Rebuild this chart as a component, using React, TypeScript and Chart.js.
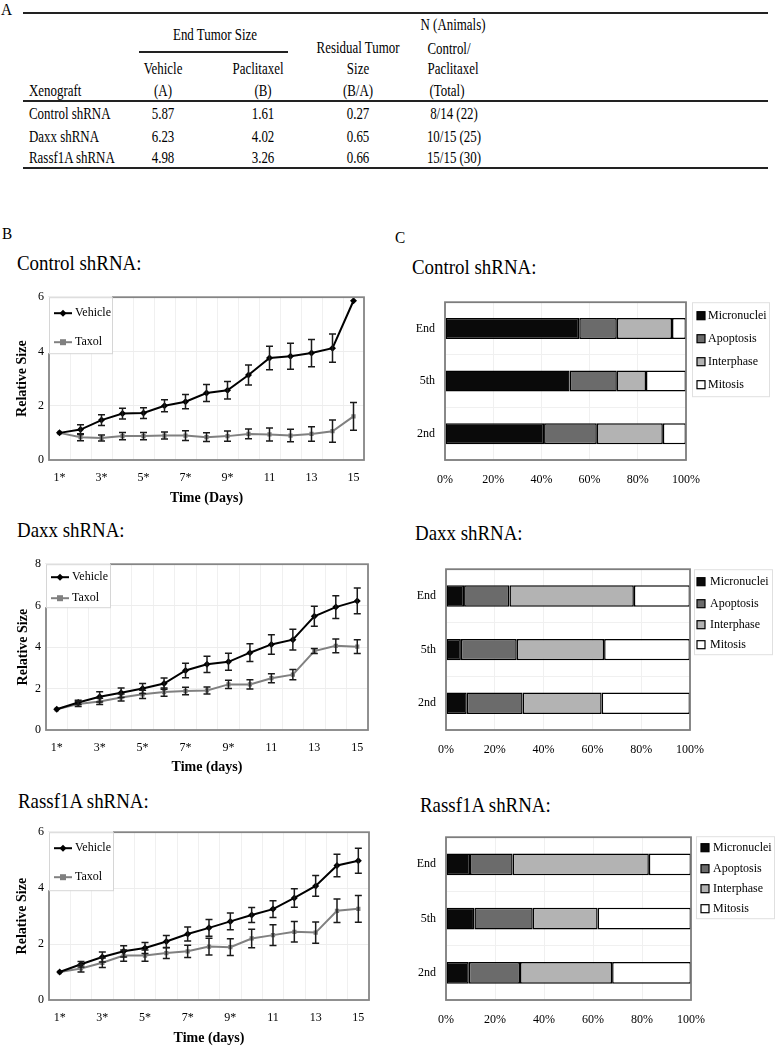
import React, { useEffect, useRef } from 'react';
import { Chart, registerables } from 'chart.js';
Chart.register(...registerables);

const FONT = '"Liberation Serif", "Times New Roman", Times, serif';

// ---------- Table data ----------
const xenografts = ['Control shRNA', 'Daxx shRNA', 'Rassf1A shRNA'];
const vehicleEnd = ['5.87', '6.23', '4.98'];
const paclitaxelEnd = ['1.61', '4.02', '3.26'];
const residualSize = ['0.27', '0.65', '0.66'];
const animals = ['8/14 (22)', '10/15 (25)', '15/15 (30)'];

// ---------- Growth curves ----------
const days = ['1*', '2', '3*', '4', '5*', '6', '7*', '8', '9*', '10', '11', '12', '13', '14', '15'];

const controlVehicle = [1.0, 1.12, 1.47, 1.71, 1.73, 2.0, 2.15, 2.47, 2.57, 3.13, 3.76, 3.82, 3.94, 4.12, 5.87];
const controlVehicleErr = [0, 0.18, 0.2, 0.2, 0.2, 0.22, 0.26, 0.31, 0.32, 0.37, 0.43, 0.48, 0.5, 0.52, 0];
const controlTaxol = [1.0, 0.84, 0.81, 0.88, 0.88, 0.9, 0.9, 0.84, 0.88, 0.96, 0.94, 0.9, 0.96, 1.06, 1.61];
const controlTaxolErr = [0, 0.13, 0.11, 0.13, 0.13, 0.13, 0.18, 0.16, 0.19, 0.18, 0.24, 0.23, 0.27, 0.41, 0.51];

const daxxVehicle = [1.0, 1.33, 1.6, 1.8, 2.0, 2.24, 2.87, 3.17, 3.29, 3.73, 4.13, 4.36, 5.49, 5.93, 6.23];
const daxxVehicleErr = [0, 0.1, 0.25, 0.23, 0.24, 0.27, 0.35, 0.39, 0.41, 0.43, 0.47, 0.5, 0.48, 0.55, 0.62];
const daxxTaxol = [1.0, 1.25, 1.38, 1.57, 1.72, 1.83, 1.88, 1.91, 2.2, 2.2, 2.5, 2.67, 3.81, 4.06, 4.02];
const daxxTaxolErr = [0, 0.12, 0.15, 0.17, 0.2, 0.2, 0.18, 0.17, 0.2, 0.22, 0.22, 0.25, 0.12, 0.33, 0.33];

const rassfVehicle = [1.0, 1.28, 1.54, 1.74, 1.86, 2.09, 2.36, 2.58, 2.81, 3.04, 3.25, 3.65, 4.08, 4.81, 4.98];
const rassfVehicleErr = [0, 0.1, 0.18, 0.2, 0.2, 0.22, 0.25, 0.3, 0.3, 0.27, 0.3, 0.33, 0.37, 0.4, 0.45];
const rassfTaxol = [1.0, 1.13, 1.33, 1.59, 1.59, 1.68, 1.74, 1.91, 1.89, 2.2, 2.32, 2.44, 2.41, 3.19, 3.26];
const rassfTaxolErr = [0, 0.13, 0.17, 0.2, 0.2, 0.2, 0.22, 0.3, 0.3, 0.33, 0.37, 0.37, 0.38, 0.42, 0.48];

// ---------- Cell fate bars (%) ----------
const stages = ['End', '5th', '2nd'];
const fateNames = ['Micronuclei', 'Apoptosis', 'Interphase', 'Mitosis'];
const fateColors = ['#0a0a0a', '#6b6b6b', '#b3b3b3', '#ffffff'];

const controlMicronuclei = [55.7, 51.7, 41.1];
const controlApoptosis = [15.6, 19.6, 21.9];
const controlInterphase = [22.9, 12.1, 27.4];
const controlMitosis = [5.8, 16.6, 9.6];

const daxxMicronuclei = [7.4, 6.1, 8.5];
const daxxApoptosis = [18.6, 22.9, 22.9];
const daxxInterphase = [51.0, 35.8, 32.4];
const daxxMitosis = [23.0, 35.2, 36.2];

const rassfMicronuclei = [9.8, 11.6, 9.3];
const rassfApoptosis = [17.4, 23.8, 20.9];
const rassfInterphase = [55.6, 26.5, 37.6];
const rassfMitosis = [17.2, 38.1, 32.2];

// ---------- Plugins ----------
const framePlugin = {
  id: 'frame',
  afterDatasetsDraw(chart: any, _a: any, opts: any) {
    const { ctx, chartArea: a } = chart;
    ctx.save();
    ctx.strokeStyle = opts.color || '#808080';
    ctx.lineWidth = opts.width || 1.5;
    ctx.strokeRect(a.left, a.top, a.right - a.left, a.bottom - a.top);
    ctx.restore();
  },
};

const errorBarsPlugin = {
  id: 'errorBars',
  afterDatasetsDraw(chart: any) {
    const ctx = chart.ctx;
    const yScale = chart.scales.y;
    chart.data.datasets.forEach((ds: any, di: number) => {
      const errs = ds.errors;
      if (!errs) return;
      const meta = chart.getDatasetMeta(di);
      ctx.save();
      ctx.strokeStyle = '#1a1a1a';
      ctx.lineWidth = 1.5;
      meta.data.forEach((pt: any, i: number) => {
        const e = errs[i];
        if (!e) return;
        const v = ds.data[i];
        const y1 = yScale.getPixelForValue(v - e);
        const y2 = yScale.getPixelForValue(v + e);
        const x = pt.x;
        ctx.beginPath();
        ctx.moveTo(x, y1);
        ctx.lineTo(x, y2);
        ctx.moveTo(x - 3.5, y1);
        ctx.lineTo(x + 3.5, y1);
        ctx.moveTo(x - 3.5, y2);
        ctx.lineTo(x + 3.5, y2);
        ctx.stroke();
      });
      ctx.restore();
    });
  },
};

const insetLegendPlugin = {
  id: 'insetLegend',
  afterDatasetsDraw(chart: any, _a: any, opts: any) {
    const { ctx, chartArea: a } = chart;
    const x0 = a.left;
    const y0 = a.top;
    ctx.save();
    ctx.fillStyle = '#fff';
    ctx.fillRect(x0 - 1, y0 - 1, opts.w + 1, opts.h + 1);
    ctx.strokeStyle = '#d6d6d6';
    ctx.lineWidth = 1;
    ctx.strokeRect(x0 + 0.5, y0 + 0.5, opts.w, opts.h);
    chart.data.datasets.forEach((ds: any, i: number) => {
      const y = y0 + opts.rows[i];
      ctx.strokeStyle = ds.borderColor;
      ctx.lineWidth = 2;
      ctx.beginPath();
      ctx.moveTo(x0 + 5, y);
      ctx.lineTo(x0 + 23, y);
      ctx.stroke();
      ctx.fillStyle = ds.borderColor;
      const cx = x0 + 14;
      ctx.beginPath();
      if (ds.pointStyle === 'rectRot') {
        ctx.moveTo(cx, y - 3.5);
        ctx.lineTo(cx + 3.5, y);
        ctx.lineTo(cx, y + 3.5);
        ctx.lineTo(cx - 3.5, y);
        ctx.closePath();
      } else {
        ctx.rect(cx - 3, y - 3, 6, 6);
      }
      ctx.fill();
      ctx.fillStyle = '#000';
      ctx.font = `12px ${FONT}`;
      ctx.textBaseline = 'middle';
      ctx.textAlign = 'left';
      ctx.fillText(ds.label, x0 + 26, y);
    });
    ctx.restore();
  },
};

const sideLegendPlugin = {
  id: 'sideLegend',
  afterDraw(chart: any, _a: any, opts: any) {
    const { ctx, chartArea: a } = chart;
    const x0 = a.right + opts.dx;
    const y0 = a.top + (opts.dy || 0);
    ctx.save();
    ctx.fillStyle = '#fff';
    ctx.fillRect(x0, y0, opts.w, opts.h);
    ctx.strokeStyle = '#e0e0e0';
    ctx.lineWidth = 1;
    ctx.strokeRect(x0 + 0.5, y0 + 0.5, opts.w, opts.h);
    chart.data.datasets.forEach((ds: any, i: number) => {
      const y = a.top + opts.rows[i];
      ctx.fillStyle = ds.backgroundColor;
      ctx.fillRect(x0 + opts.sq, y - 4.5, 8, 8);
      ctx.strokeStyle = '#000';
      ctx.lineWidth = 1.2;
      ctx.strokeRect(x0 + opts.sq, y - 4.5, 8, 8);
      ctx.fillStyle = '#000';
      ctx.font = `12px ${FONT}`;
      ctx.textBaseline = 'middle';
      ctx.textAlign = 'left';
      ctx.fillText(ds.label, x0 + opts.tx, y);
    });
    ctx.restore();
  },
};

// ---------- Config builders ----------
function lineConfig(p: any) {
  return {
    type: 'line',
    data: {
      labels: days,
      datasets: [
        {
          label: 'Vehicle',
          data: p.vehicle,
          errors: p.vehicleErr,
          borderColor: '#000000',
          backgroundColor: '#000000',
          borderWidth: 2,
          pointStyle: 'rectRot',
          pointRadius: 3.5,
          pointBorderWidth: 0,
          tension: 0,
        },
        {
          label: 'Taxol',
          data: p.taxol,
          errors: p.taxolErr,
          borderColor: '#808080',
          backgroundColor: '#808080',
          borderWidth: 2,
          pointStyle: 'rect',
          pointRadius: 3,
          pointBorderWidth: 0,
          tension: 0,
        },
      ],
    },
    options: {
      responsive: false,
      animation: false,
      layout: { padding: { top: p.padTop, right: p.padRight, left: 0, bottom: 0 } },
      plugins: {
        legend: { display: false },
        tooltip: { enabled: false },
        frame: { color: '#858585', width: 1.8 },
        insetLegend: p.legend,
      },
      scales: {
        x: {
          type: 'category',
          offset: true,
          afterFit: (s: any) => { s.height = 50; },
          grid: { color: '#f0f0f0', drawTicks: false, offset: true },
          border: { display: false },
          ticks: {
            autoSkip: false,
            maxRotation: 0,
            padding: 11,
            color: '#000',
            font: { family: FONT, size: 12 },
            callback: (_v: any, i: number) => (i % 2 === 0 ? days[i] : ''),
          },
          title: {
            display: true,
            text: p.xTitle,
            color: '#000',
            font: { family: FONT, size: 14, weight: 'bold' },
            padding: { top: 0, bottom: p.xTitlePad },
          },
        },
        y: {
          min: 0,
          max: p.yMax,
          afterFit: (s: any) => { s.width = p.yAxisW; },
          grid: { color: '#ededed', drawTicks: false },
          border: { display: false },
          ticks: {
            stepSize: 2,
            padding: 5,
            color: '#000',
            font: { family: FONT, size: 12 },
          },
          title: {
            display: true,
            text: 'Relative Size',
            color: '#000',
            font: { family: FONT, size: 14, weight: 'bold' },
            padding: { top: p.yTitlePad, bottom: 0 },
          },
        },
      },
    },
    plugins: [framePlugin, errorBarsPlugin, insetLegendPlugin],
  };
}

function barConfig(p: any) {
  const series = [p.micronuclei, p.apoptosis, p.interphase, p.mitosis];
  return {
    type: 'bar',
    data: {
      labels: stages,
      datasets: series.map((d: number[], i: number) => ({
        label: fateNames[i],
        data: d,
        backgroundColor: fateColors[i],
        borderColor: '#000',
        borderWidth: 1.5,
        borderSkipped: false,
        barPercentage: 0.4,
        categoryPercentage: 1,
      })),
    },
    options: {
      indexAxis: 'y',
      responsive: false,
      animation: false,
      layout: { padding: { top: p.padTop, right: p.padRight, left: 0, bottom: 0 } },
      plugins: {
        legend: { display: false },
        tooltip: { enabled: false },
        frame: { color: '#7d7d7d', width: 1.8 },
        sideLegend: p.legend,
      },
      scales: {
        x: {
          stacked: true,
          min: 0,
          max: 100,
          afterFit: (s: any) => { s.height = 50; },
          grid: { color: '#f0f0f0', drawTicks: false },
          border: { display: false },
          ticks: {
            stepSize: 20,
            padding: 13,
            color: '#000',
            font: { family: FONT, size: 12 },
            callback: (v: any) => v + '%',
          },
        },
        y: {
          stacked: true,
          afterFit: (s: any) => { s.width = p.yAxisW; },
          grid: { color: '#f0f0f0', drawTicks: false, offset: true },
          border: { display: false },
          ticks: {
            padding: 10,
            color: '#000',
            font: { family: FONT, size: 12 },
          },
        },
      },
    },
    plugins: [framePlugin, sideLegendPlugin],
  };
}

// ---------- Components ----------
function ChartBox({ left, top, width, height, config }: any) {
  const ref = useRef<HTMLCanvasElement | null>(null);
  useEffect(() => {
    if (!ref.current) return;
    const chart = new Chart(ref.current, config);
    return () => chart.destroy();
  }, []);
  return (
    <canvas
      ref={ref}
      width={width}
      height={height}
      style={{ position: 'absolute', left, top, width, height, display: 'block' }}
    />
  );
}

function T({ x, y, children, size = 17, align = 'center', sx = 0.76 }: any) {
  const center = align === 'center';
  return (
    <div
      style={{
        position: 'absolute',
        left: x,
        top: y,
        whiteSpace: 'nowrap',
        fontFamily: FONT,
        fontSize: size,
        lineHeight: 1,
        color: '#000',
        transform: center ? `translate(-50%, -50%) scaleX(${sx})` : `translate(0, -50%) scaleX(${sx})`,
        transformOrigin: center ? '50% 50%' : '0 50%',
      }}
    >
      {children}
    </div>
  );
}

function Rule({ x1, x2, y }: any) {
  return <div style={{ position: 'absolute', left: x1, top: y, width: x2 - x1, height: 1.5, background: '#222' }} />;
}

export default function App() {
  const rowY = [113, 136, 157];
  return (
    <div style={{ position: 'absolute', left: 0, top: 0, width: 775, height: 1050, background: '#fff', overflow: 'hidden' }}>
      {/* Panel A: table */}
      <T x={1} y={9} align="left" sx={0.9}>A</T>
      <Rule x1={23} x2={768} y={12} />
      <T x={215} y={34}>End Tumor Size</T>
      <Rule x1={139} x2={288} y={51} />
      <T x={453} y={24}>N (Animals)</T>
      <T x={358} y={47}>Residual Tumor</T>
      <T x={449} y={48}>Control/</T>
      <T x={163} y={68}>Vehicle</T>
      <T x={258} y={68}>Paclitaxel</T>
      <T x={358} y={68}>Size</T>
      <T x={453} y={68}>Paclitaxel</T>
      <T x={29} y={90} align="left">Xenograft</T>
      <T x={163} y={90}>(A)</T>
      <T x={263} y={90}>(B)</T>
      <T x={358} y={90}>(B/A)</T>
      <T x={447} y={90}>(Total)</T>
      <Rule x1={23} x2={768} y={100} />
      {xenografts.map((name, i) => (
        <React.Fragment key={name}>
          <T x={29} y={rowY[i]} align="left">{name}</T>
          <T x={163} y={rowY[i]}>{vehicleEnd[i]}</T>
          <T x={263} y={rowY[i]}>{paclitaxelEnd[i]}</T>
          <T x={358} y={rowY[i]}>{residualSize[i]}</T>
          <T x={454} y={rowY[i]}>{animals[i]}</T>
        </React.Fragment>
      ))}
      <Rule x1={23} x2={768} y={167} />

      {/* Panel labels */}
      <T x={2} y={233} align="left" sx={0.9}>B</T>
      <T x={395} y={237} align="left" sx={0.9}>C</T>

      {/* Panel B titles */}
      <T x={17} y={263} size={21} align="left" sx={0.9}>Control shRNA:</T>
      <T x={17} y={530} size={21} align="left" sx={0.9}>Daxx shRNA:</T>
      <T x={18} y={801} size={21} align="left" sx={0.9}>Rassf1A shRNA:</T>

      {/* Panel C titles */}
      <T x={412} y={267} size={21} align="left" sx={0.9}>Control shRNA:</T>
      <T x={415} y={533} size={21} align="left" sx={0.9}>Daxx shRNA:</T>
      <T x={420} y={805} size={21} align="left" sx={0.9}>Rassf1A shRNA:</T>

      {/* Panel B charts */}
      <ChartBox
        left={0} top={285} width={380} height={225}
        config={lineConfig({
          vehicle: controlVehicle, vehicleErr: controlVehicleErr,
          taxol: controlTaxol, taxolErr: controlTaxolErr,
          yMax: 6, padTop: 7, padRight: 16, yAxisW: 49,
          xTitle: 'Time (Days)', xTitlePad: 3.6, yTitlePad: 13.6,
          legend: { w: 63, h: 56, rows: [16, 45] },
        })}
      />
      <ChartBox
        left={0} top={552} width={380} height={228}
        config={lineConfig({
          vehicle: daxxVehicle, vehicleErr: daxxVehicleErr,
          taxol: daxxTaxol, taxolErr: daxxTaxolErr,
          yMax: 8, padTop: 7, padRight: 12, yAxisW: 46,
          xTitle: 'Time (days)', xTitlePad: 4.6, yTitlePad: 14.6,
          legend: { w: 64, h: 43, rows: [13, 34] },
        })}
      />
      <ChartBox
        left={0} top={820} width={380} height={230}
        config={lineConfig({
          vehicle: rassfVehicle, vehicleErr: rassfVehicleErr,
          taxol: rassfTaxol, taxolErr: rassfTaxolErr,
          yMax: 6, padTop: 7, padRight: 11, yAxisW: 49,
          xTitle: 'Time (days)', xTitlePad: 3.6, yTitlePad: 13.6,
          legend: { w: 64, h: 58, rows: [16, 45] },
        })}
      />

      {/* Panel C charts */}
      <ChartBox
        left={385} top={285} width={390} height={225}
        config={barConfig({
          micronuclei: controlMicronuclei, apoptosis: controlApoptosis,
          interphase: controlInterphase, mitosis: controlMitosis,
          padTop: 8, padRight: 89, yAxisW: 60,
          legend: { dx: 6, w: 77, h: 94, rows: [14, 37, 60, 83], sq: 5, tx: 16 },
        })}
      />
      <ChartBox
        left={385} top={552} width={390} height={228}
        config={barConfig({
          micronuclei: daxxMicronuclei, apoptosis: daxxApoptosis,
          interphase: daxxInterphase, mitosis: daxxMitosis,
          padTop: 8, padRight: 85, yAxisW: 61,
          legend: { dx: 4, w: 78, h: 85, rows: [13, 35, 56, 76], sq: 3, tx: 16 },
        })}
      />
      <ChartBox
        left={385} top={820} width={390} height={230}
        config={barConfig({
          micronuclei: rassfMicronuclei, apoptosis: rassfApoptosis,
          interphase: rassfInterphase, mitosis: rassfMitosis,
          padTop: 11, padRight: 84, yAxisW: 61,
          legend: { dx: 5, dy: -1, w: 78, h: 82, rows: [11, 32, 52, 72], sq: 5, tx: 17 },
        })}
      />
    </div>
  );
}
